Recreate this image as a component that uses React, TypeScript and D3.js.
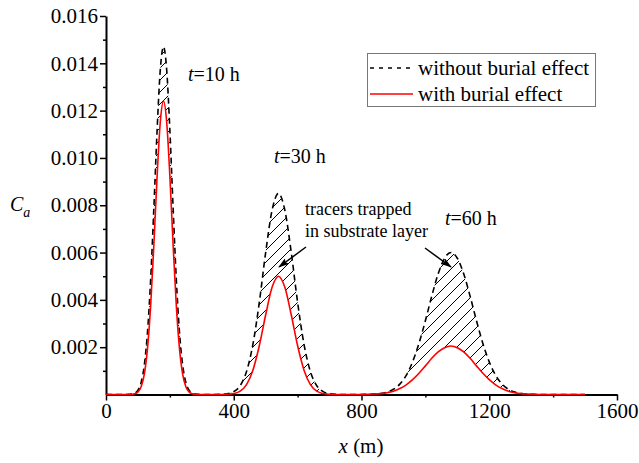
import { useRef, useEffect } from 'react'
import * as d3 from 'd3'

// positions along the channel (m)
const xPos = [
  0, 20, 40, 60, 70, 80, 90, 100, 110, 120, 130, 140, 150, 160, 170, 180, 190, 200,
  210, 220, 230, 240, 250, 260, 270, 280, 290, 300, 320, 340, 360, 380, 400, 420,
  440, 460, 480, 500, 520, 540, 560, 580, 600, 620, 640, 660, 680, 700, 720, 740,
  760, 780, 800, 820, 840, 860, 880, 900, 920, 940, 960, 980, 1000, 1020, 1040,
  1060, 1080, 1100, 1120, 1140, 1160, 1180, 1200, 1220, 1240, 1260, 1280, 1300,
  1320, 1340, 1360, 1380, 1400, 1450, 1500,
]

// Ca without burial effect (dashed)
const withoutBurial = [
  0, 0, 0, 0, 0.000004, 0.000015, 0.000057, 0.00018, 0.00051, 0.00125, 0.00265, 0.00491, 0.00793, 0.01117, 0.01373, 0.0147, 0.01373, 0.01117,
  0.00793, 0.00491, 0.00265, 0.00125, 0.00051, 0.00018, 0.000057, 0.000015, 0.000004, 0, 0, 0.000001, 0.0000075, 0.000033, 0.00012, 0.00037,
  0.00097, 0.00212, 0.00389, 0.00601, 0.00779, 0.0085, 0.00779, 0.00601, 0.00389, 0.00212, 0.00097, 0.00037, 0.00012, 0.000033, 0.0000075, 0.000001,
  0, 0, 0, 0.000006, 0.000017, 0.000043, 0.0001, 0.00022, 0.00044, 0.00081, 0.00138, 0.00216, 0.00312, 0.00416, 0.0051,
  0.00576, 0.006, 0.00576, 0.0051, 0.00416, 0.00312, 0.00216, 0.00138, 0.00081, 0.00044, 0.00022, 0.0001, 0.000043,
  0.000017, 0.000006, 0, 0, 0, 0, 0,
]

// Ca with burial effect (red)
const withBurial = [
  0, 0, 0, 0, 0, 0.0000076, 0.000031, 0.00011, 0.00033, 0.00086, 0.00195, 0.0038, 0.00637, 0.00922, 0.01152, 0.0124, 0.01152, 0.00922,
  0.00637, 0.0038, 0.00195, 0.00086, 0.00033, 0.00011, 0.000031, 0.0000076, 0, 0, 0, 0, 0.0000017, 0.000009, 0.00004, 0.00014,
  0.00042, 0.00103, 0.00206, 0.00337, 0.00453, 0.005, 0.00453, 0.00337, 0.00206, 0.00103, 0.00042, 0.00014, 0.00004, 0.000009, 0.0000017, 0,
  0, 0, 0.000003, 0.000008, 0.000018, 0.000038, 0.000077, 0.00014, 0.00025, 0.00041, 0.00063, 0.0009, 0.00121, 0.00153, 0.0018,
  0.00198, 0.00205, 0.00198, 0.0018, 0.00153, 0.00121, 0.0009, 0.00063, 0.00041, 0.00025, 0.00014, 0.000077, 0.000038,
  0.000018, 0.000008, 0.000003, 0, 0, 0, 0,
]

const xTicks = [0, 400, 800, 1200, 1600]
const xMinorTicks = [200, 600, 1000, 1400]
const yTicks = [0.002, 0.004, 0.006, 0.008, 0.01, 0.012, 0.014, 0.016]
const yMinorTicks = [0.001, 0.003, 0.005, 0.007, 0.009, 0.011, 0.013, 0.015]
const timeLabels = ['10', '30', '60']
const legendLabels = ['without burial effect', 'with burial effect']

const FONT = '"Liberation Serif", "Times New Roman", serif'

const Chart = () => {
  const svgRef = useRef<SVGSVGElement>(null)

  useEffect(() => {
    const w = 639
    const h = 463
    const svg = d3.select(svgRef.current)
      .attr('width', w)
      .attr('height', h)
      .style('position', 'absolute')
      .style('left', 0)
      .style('top', 0)
      .style('background', '#fff')
    svg.selectAll('*').remove()

    const x = d3.scaleLinear().domain([0, 1600]).range([106, 617])
    const y = d3.scaleLinear().domain([0, 0.016]).range([394.5, 16])

    // hatch pattern + arrow head
    const defs = svg.append('defs')
    defs.append('pattern')
      .attr('id', 'hatch')
      .attr('patternUnits', 'userSpaceOnUse')
      .attr('width', 12)
      .attr('height', 12)
      .append('path')
        .attr('d', 'M-2,2 L2,-2 M0,12 L12,0 M10,14 L14,10')
        .attr('stroke', '#000')
        .attr('stroke-width', 1)
    defs.append('marker')
      .attr('id', 'arrow')
      .attr('markerUnits', 'userSpaceOnUse')
      .attr('markerWidth', 11)
      .attr('markerHeight', 7)
      .attr('refX', 10)
      .attr('refY', 3.5)
      .attr('orient', 'auto')
      .append('path')
        .attr('d', 'M0,0 L11,3.5 L0,7 L2,3.5 z')
        .attr('fill', '#000')

    // axes
    const xAxis = svg.append('g')
      .attr('transform', `translate(0, ${y(0)})`)
      .call(d3.axisBottom(x).tickValues(xTicks).tickSize(6).tickSizeOuter(0).tickPadding(3).tickFormat(d3.format('d')))
    svg.append('g')
      .attr('transform', `translate(0, ${y(0)})`)
      .call(d3.axisBottom(x).tickValues(xMinorTicks).tickSize(3).tickSizeOuter(0).tickFormat(() => ''))
      .call(g => g.select('.domain').remove())
    const yAxis = svg.append('g')
      .attr('transform', `translate(${x(0)}, 0)`)
      .call(d3.axisLeft(y).tickValues(yTicks).tickSize(6).tickSizeOuter(0).tickPadding(2).tickFormat(d3.format('.3f')))
    svg.append('g')
      .attr('transform', `translate(${x(0)}, 0)`)
      .call(d3.axisLeft(y).tickValues(yMinorTicks).tickSize(3).tickSizeOuter(0).tickFormat(() => ''))
      .call(g => g.select('.domain').remove())
    svg.selectAll('.domain').attr('stroke-width', 2)
    svg.selectAll('.tick line').attr('stroke-width', 1.5)
    ;[xAxis, yAxis].forEach(g => g.attr('font-family', FONT).attr('font-size', 21))
    svg.selectAll('.tick text').attr('fill', '#000')

    const idx = d3.range(xPos.length)
    const area = d3.area<number>()
      .x(i => x(xPos[i]))
      .y0(i => y(withBurial[i]))
      .y1(i => y(withoutBurial[i]))
      .curve(d3.curveMonotoneX)
    const line = (vals: number[]) => d3.line<number>()
      .x(i => x(xPos[i]))
      .y(i => y(vals[i]))
      .curve(d3.curveMonotoneX)(idx)

    svg.append('path')
      .attr('d', area(idx))
      .attr('fill', 'url(#hatch)')
    svg.append('path')
      .attr('d', line(withoutBurial))
      .attr('fill', 'none')
      .attr('stroke', '#000')
      .attr('stroke-width', 1.6)
      .attr('stroke-dasharray', '6,4')
    svg.append('path')
      .attr('d', line(withBurial))
      .attr('fill', 'none')
      .attr('stroke', '#ff0000')
      .attr('stroke-width', 1.6)

    // time labels
    const tPos = [[188, 81], [274, 163], [445, 225]]
    timeLabels.forEach((t, i) => {
      const txt = svg.append('text')
        .attr('x', tPos[i][0])
        .attr('y', tPos[i][1])
        .attr('font-family', FONT)
        .attr('font-size', 20)
      txt.append('tspan').attr('font-style', 'italic').text('t')
      txt.append('tspan').text(`=${t} h`)
    })

    // annotation
    const note = svg.append('text')
      .attr('font-family', FONT)
      .attr('font-size', 18)
    note.append('tspan').attr('x', 305).attr('y', 215).text('tracers trapped')
    note.append('tspan').attr('x', 305).attr('y', 237).text('in substrate layer')
    svg.append('line')
      .attr('x1', 306).attr('y1', 247).attr('x2', 279).attr('y2', 267)
      .attr('stroke', '#000').attr('stroke-width', 1.5)
      .attr('marker-end', 'url(#arrow)')
    svg.append('line')
      .attr('x1', 425).attr('y1', 248).attr('x2', 451).attr('y2', 267)
      .attr('stroke', '#000').attr('stroke-width', 1.5)
      .attr('marker-end', 'url(#arrow)')

    // axis titles
    const yt = svg.append('text')
      .attr('x', 10)
      .attr('y', 211)
      .attr('font-family', FONT)
      .attr('font-size', 20)
      .attr('font-style', 'italic')
    yt.append('tspan').text('C')
    yt.append('tspan').attr('font-size', 14).attr('dy', 6).text('a')
    const xt = svg.append('text')
      .attr('x', 361)
      .attr('y', 453)
      .attr('text-anchor', 'middle')
      .attr('font-family', FONT)
      .attr('font-size', 21)
    xt.append('tspan').attr('font-style', 'italic').text('x')
    xt.append('tspan').text(' (m)')

    // legend
    const lg = svg.append('g')
    lg.append('rect')
      .attr('x', 367.5).attr('y', 53.5).attr('width', 228).attr('height', 53)
      .attr('fill', '#fff').attr('stroke', '#777').attr('stroke-width', 1)
    legendLabels.forEach((lab, i) => {
      const ly = 68 + i * 26
      lg.append('line')
        .attr('x1', 370).attr('x2', 413).attr('y1', ly).attr('y2', ly)
        .attr('stroke', i === 0 ? '#000' : '#ff0000')
        .attr('stroke-width', 1.5)
        .attr('stroke-dasharray', i === 0 ? '4,5' : null)
      lg.append('text')
        .attr('x', 418).attr('y', ly + 7)
        .attr('font-family', FONT)
        .attr('font-size', 21)
        .text(lab)
    })
  }, [])

  return <svg ref={svgRef}></svg>
}

export default function App() {
  return (
    <div>
      <Chart />
    </div>
  )
}
